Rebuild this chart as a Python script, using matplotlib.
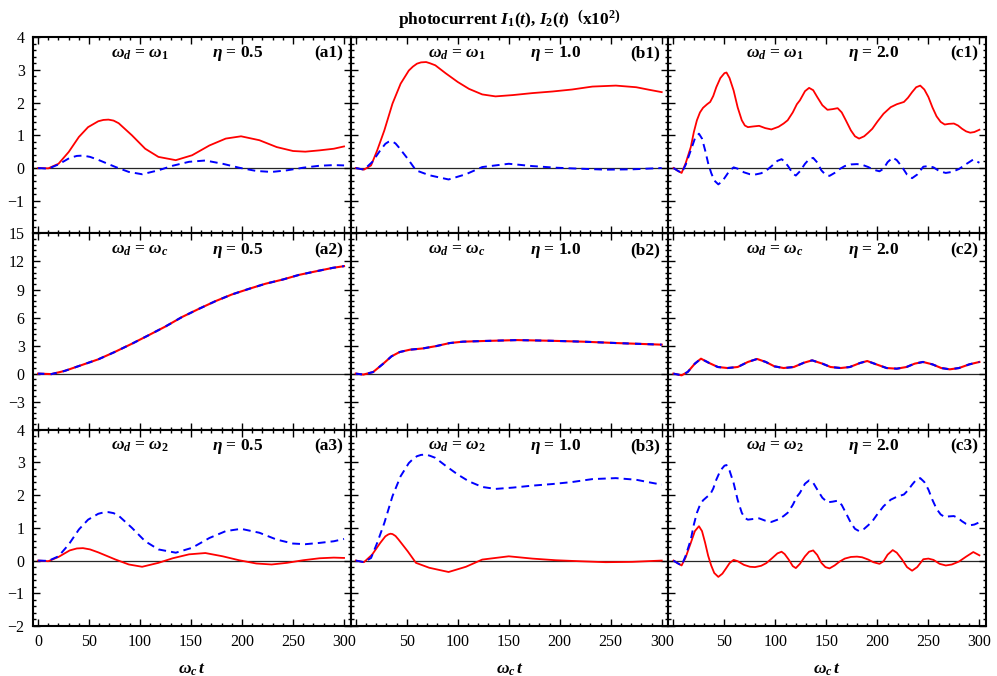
import matplotlib
matplotlib.use("Agg")
import matplotlib.pyplot as plt
from matplotlib.ticker import MultipleLocator

plt.rcParams['font.family'] = 'Liberation Serif'
plt.rcParams['mathtext.fontset'] = 'custom'
plt.rcParams['mathtext.rm'] = 'Liberation Serif:bold'
plt.rcParams['mathtext.it'] = 'Liberation Serif:italic:bold'
plt.rcParams['mathtext.bf'] = 'Liberation Serif:bold'

##### Data #####
# eta = 0.5  (column a)
t_a_i1 = [0, 10, 20, 30, 40, 49, 59, 64, 69, 74, 79, 92, 105, 118, 135, 151, 168, 184, 199, 217, 234, 250, 262, 276, 290, 300]
i1_a = [0, -0.01, 0.13, 0.49, 0.95, 1.25, 1.43, 1.47, 1.48, 1.45, 1.37, 1.0, 0.59, 0.34, 0.24, 0.39, 0.69, 0.9, 0.97, 0.85, 0.64, 0.52, 0.5, 0.54, 0.59, 0.66]
t_a_i2 = [0, 10, 20, 31, 38, 44, 51, 59, 76, 89, 102, 118, 132, 148, 164, 181, 197, 214, 229, 244, 260, 276, 290, 300]
i2_a = [0, -0.02, 0.11, 0.31, 0.37, 0.38, 0.34, 0.25, 0.03, -0.12, -0.19, -0.07, 0.07, 0.19, 0.23, 0.13, 0.01, -0.09, -0.12, -0.07, 0.01, 0.07, 0.09, 0.08]
t_a_mid = [0, 13, 26, 42, 59, 75, 92, 108, 125, 141, 158, 174, 190, 207, 223, 240, 256, 273, 289, 300]
i_a_mid = [0, -0.05, 0.29, 0.89, 1.53, 2.31, 3.2, 4.09, 5.05, 6.05, 6.95, 7.76, 8.47, 9.08, 9.62, 10.07, 10.57, 10.96, 11.32, 11.5]

# eta = 1.0  (column b)
t_b_i1 = [0, 8, 15, 21, 28, 36, 44, 52, 56, 60, 64, 69, 73, 78, 88, 100, 111, 124, 137, 154, 173, 193, 212, 232, 255, 275, 288, 300]
i1_b = [0, -0.05, 0.08, 0.54, 1.15, 1.97, 2.58, 2.98, 3.1, 3.19, 3.23, 3.24, 3.2, 3.14, 2.9, 2.63, 2.42, 2.25, 2.19, 2.23, 2.29, 2.34, 2.40, 2.49, 2.52, 2.47, 2.39, 2.32]
t_b_i2 = [0, 8, 16, 24, 29, 32, 34, 36, 39, 42, 51, 59, 72, 91, 108, 124, 150, 173, 196, 219, 245, 271, 300]
i2_b = [0, -0.05, 0.18, 0.54, 0.74, 0.8, 0.82, 0.81, 0.75, 0.64, 0.28, -0.07, -0.22, -0.35, -0.19, 0.03, 0.13, 0.06, 0.01, -0.02, -0.05, -0.04, 0]
t_b_mid = [0, 7.5, 17, 27, 35, 43, 53, 66, 79, 92, 105, 125, 158, 190, 223, 256, 300]
i_b_mid = [0, -0.1, 0.17, 1.07, 1.85, 2.31, 2.56, 2.7, 2.95, 3.27, 3.42, 3.49, 3.59, 3.52, 3.42, 3.27, 3.1]

# eta = 2.0  (column c)
t_c_i1 = [0, 4, 8, 12, 17, 20, 23, 26, 29, 33, 36, 39, 42, 46, 50, 52, 55, 59, 63, 67, 70, 73, 78, 84, 90, 96,
          103, 108, 112, 117, 121, 124, 129, 133, 137, 141, 146, 151, 156, 161, 165, 169, 174, 178, 182, 187,
          191, 195, 200, 206, 213, 219, 226, 230, 234, 238, 242, 246, 250, 254, 258, 262, 266, 270, 275, 279,
          283, 287, 291, 295, 300]
i1_c = [0, -0.08, -0.15, 0.15, 0.64, 1.1, 1.46, 1.7, 1.84, 1.95, 2.02, 2.2, 2.47, 2.75, 2.9, 2.92, 2.75, 2.37, 1.85, 1.46, 1.3, 1.25, 1.27, 1.29, 1.22, 1.18,
        1.26, 1.36, 1.46, 1.7, 1.95, 2.07, 2.35, 2.45, 2.38, 2.17, 1.92, 1.78, 1.8, 1.83, 1.7, 1.46, 1.15, 0.97, 0.9, 0.97,
        1.08, 1.2, 1.42, 1.66, 1.86, 1.95, 2.02, 2.15, 2.32, 2.47, 2.52, 2.4, 2.17, 1.85, 1.58, 1.41, 1.33, 1.35, 1.36, 1.3,
        1.2, 1.12, 1.08, 1.1, 1.17]
t_c_i2 = [0, 4, 8, 12, 17, 21, 25, 28, 31, 34, 37, 40, 44, 48, 52, 55, 59, 63, 69, 75, 80, 86, 91, 97, 102, 106,
          109, 113, 117, 120, 124, 129, 133, 137, 141, 145, 149, 153, 158, 163, 168, 174, 180, 185, 191, 196, 202,
          206, 210, 215, 219, 224, 229, 234, 239, 245, 250, 255, 261, 267, 273, 280, 287, 294, 300]
i2_c = [0, -0.08, -0.15, 0.1, 0.54, 0.9, 1.05, 0.9, 0.55, 0.15, -0.15, -0.38, -0.5, -0.4, -0.22, -0.08, 0.02, -0.02, -0.13, -0.19, -0.2, -0.16, -0.08, 0.08, 0.22, 0.27,
        0.2, 0.03, -0.17, -0.23, -0.1, 0.13, 0.27, 0.31, 0.17, -0.07, -0.2, -0.24, -0.15, -0.03, 0.06, 0.11, 0.12, 0.1, 0.03, -0.05, -0.1,
        -0.02, 0.18, 0.32, 0.24, 0.04, -0.2, -0.31, -0.2, 0.04, 0.06, 0.02, -0.1, -0.15, -0.12, -0.03, 0.12, 0.26, 0.16]
t_c_mid = [0, 8, 14, 21, 27, 35, 43.5, 53, 63, 73, 82, 90.5, 99, 108, 118, 128, 136, 146, 154, 164, 173, 183, 190, 199, 209, 219, 228.5, 236.6, 244.7, 254, 262.6, 271, 280, 290, 300]
i_c_mid = [0, -0.18, 0.18, 1.07, 1.6, 1.14, 0.71, 0.6, 0.71, 1.25, 1.57, 1.25, 0.78, 0.6, 0.71, 1.17, 1.42, 1.07, 0.71, 0.6, 0.71, 1.14, 1.35, 0.99, 0.6, 0.53, 0.71, 1.07, 1.25, 0.99, 0.6, 0.46, 0.6, 0.99, 1.25]

col_names = ['a', 'b', 'c']
eta_labels = ['0.5', '1.0', '2.0']
row_labels = [r'$\omega_d$ = $\omega_1$', r'$\omega_d$ = $\omega_c$', r'$\omega_d$ = $\omega_2$']
row_ylims = [(-2, 4), (-6, 15), (-2, 4)]
row_yticks = [[-1, 0, 1, 2, 3, 4], [-3, 0, 3, 6, 9, 12, 15], [-2, -1, 0, 1, 2, 3, 4]]
row_yminor = [0.2, 0.6, 0.2]
x_ticks = [0, 50, 100, 150, 200, 250, 300]

cols = [
    (t_a_i1, i1_a, t_a_i2, i2_a, t_a_mid, i_a_mid),
    (t_b_i1, i1_b, t_b_i2, i2_b, t_b_mid, i_b_mid),
    (t_c_i1, i1_c, t_c_i2, i2_c, t_c_mid, i_c_mid),
]

##### Plot #####
fig, axes = plt.subplots(3, 3, figsize=(9.97, 6.76), dpi=100)
fig.subplots_adjust(left=0.0331, right=0.989, bottom=0.074, top=0.945, wspace=0, hspace=0)

red = '#ff0000'
blue = '#0000ff'
dash = (0, (4, 2.6))

for c, (t1, y1, t2, y2, tm, ym) in enumerate(cols):
    for r in range(3):
        ax = axes[r, c]
        ax.axhline(0, color='0.15', lw=0.9, zorder=1)
        if r == 0:
            ax.plot(t1, y1, color=red, lw=1.3, zorder=3)
            ax.plot(t2, y2, color=blue, lw=1.4, ls=dash, zorder=4)
        elif r == 1:
            ax.plot(tm, ym, color=red, lw=1.5, zorder=3)
            ax.plot(tm, ym, color=blue, lw=1.5, ls=(0, (3, 3)), zorder=4)
        else:
            ax.plot(t2, y2, color=red, lw=1.3, zorder=3)
            ax.plot(t1, y1, color=blue, lw=1.4, ls=dash, zorder=4)

        ax.set_xlim(-5, 306.5)
        ax.set_ylim(*row_ylims[r])
        ax.set_xticks(x_ticks)
        ax.xaxis.set_minor_locator(MultipleLocator(10))
        ax.set_yticks(row_yticks[r])
        ax.yaxis.set_minor_locator(MultipleLocator(row_yminor[r]))
        ax.tick_params(which='both', direction='in', top=True, right=True, width=1.0)
        ax.tick_params(which='major', length=5, labelsize=11.5)
        ax.tick_params(which='minor', length=2.5)
        ax.tick_params(axis='x', pad=6)
        ax.tick_params(axis='y', pad=6)
        for s in ax.spines.values():
            s.set_linewidth(1.5)

        if c != 0:
            ax.set_yticklabels([])
        if r != 2:
            ax.set_xticklabels([])
        elif c != 0:
            ax.set_xticklabels([''] + [str(v) for v in x_ticks[1:]])

        ax.text(0.335, 0.915, row_labels[r], transform=ax.transAxes, ha='center', va='center',
                fontsize=12.5, fontweight='bold')
        ax.text(0.645, 0.915, r'$\eta$ = ' + eta_labels[c], transform=ax.transAxes, ha='center',
                va='center', fontsize=12.5, fontweight='bold')
        ax.text(0.975, 0.915, '(' + col_names[c] + str(r + 1) + ')', transform=ax.transAxes,
                ha='right', va='center', fontsize=12.5, fontweight='bold')

    axes[2, c].set_xlabel(r'$\omega_c\, t$', fontsize=12.5, labelpad=8)

fig.suptitle(r'photocurrent $I_1(t)$, $I_2(t)$  $\left(\mathrm{x10}^2\right)$', x=0.511, y=0.99,
             fontsize=12.5, fontweight='bold')

fig.savefig('out.png', dpi=100)
